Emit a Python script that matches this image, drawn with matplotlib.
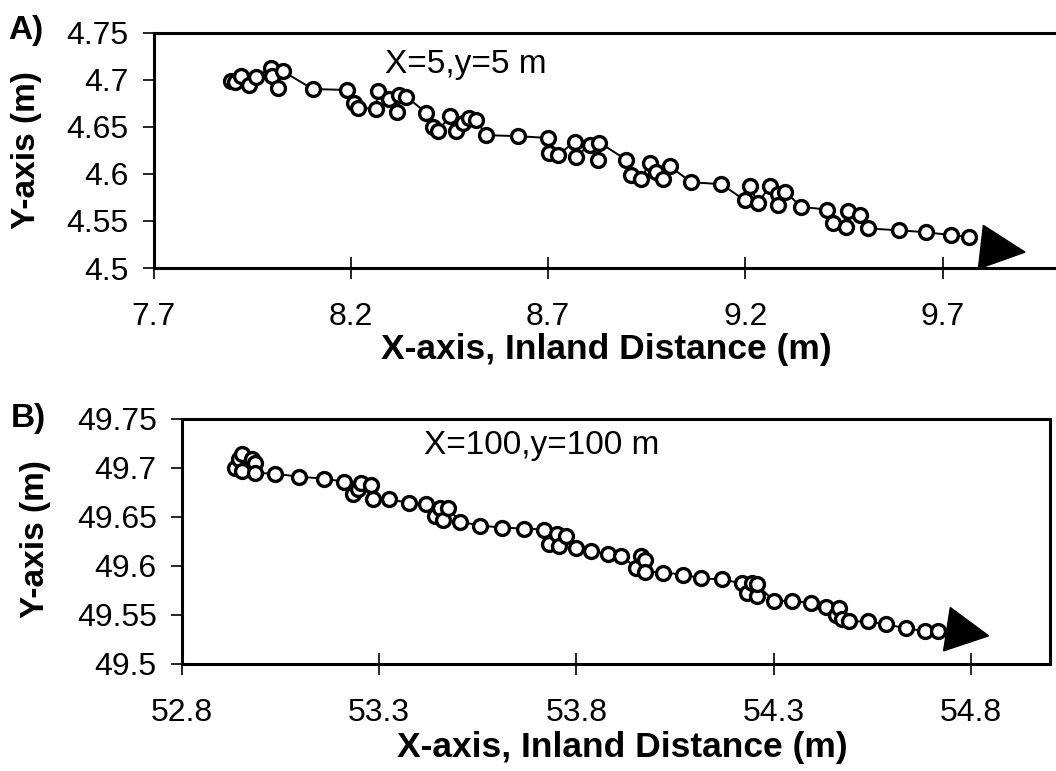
''' particle path plots, two grid sizes '''

import matplotlib
matplotlib.use('Agg')
import matplotlib.pyplot as plt
import matplotlib.transforms as transforms
from matplotlib.patches import Polygon

plt.rcParams['font.family'] = ['Liberation Sans', 'DejaVu Sans']

# panel A, X=5,y=5 m
xa = [7.897, 7.906, 7.921, 7.942, 7.959, 7.997, 8.001, 8.014, 8.027, 8.103,
      8.190, 8.208, 8.217, 8.263, 8.268, 8.297, 8.318, 8.323, 8.340, 8.390,
      8.407, 8.420, 8.450, 8.467, 8.483, 8.500, 8.517, 8.543, 8.623, 8.699,
      8.703, 8.725, 8.767, 8.771, 8.805, 8.826, 8.830, 8.898, 8.911, 8.936,
      8.957, 8.974, 8.991, 9.008, 9.063, 9.139, 9.198, 9.211, 9.232, 9.262,
      9.283, 9.283, 9.300, 9.342, 9.406, 9.423, 9.456, 9.461, 9.490, 9.511,
      9.589, 9.657, 9.720, 9.766]
ya = [4.698, 4.697, 4.704, 4.694, 4.703, 4.712, 4.704, 4.691, 4.709, 4.690,
      4.689, 4.675, 4.670, 4.669, 4.688, 4.679, 4.666, 4.684, 4.682, 4.665,
      4.650, 4.645, 4.661, 4.645, 4.654, 4.659, 4.657, 4.641, 4.640, 4.638,
      4.622, 4.620, 4.634, 4.618, 4.631, 4.615, 4.633, 4.615, 4.599, 4.595,
      4.611, 4.602, 4.594, 4.608, 4.591, 4.589, 4.572, 4.587, 4.569, 4.587,
      4.579, 4.567, 4.581, 4.565, 4.562, 4.548, 4.544, 4.560, 4.556, 4.542,
      4.540, 4.538, 4.535, 4.533]

# panel B, X=100,y=100 m
xb = [52.935, 52.944, 52.952, 52.952, 52.978, 52.986, 52.986, 53.037, 53.097, 53.160,
      53.211, 53.233, 53.246, 53.254, 53.280, 53.284, 53.326, 53.377, 53.420, 53.441,
      53.454, 53.462, 53.475, 53.505, 53.556, 53.611, 53.667, 53.718, 53.730, 53.752,
      53.756, 53.773, 53.798, 53.836, 53.879, 53.913, 53.951, 53.964, 53.973, 53.973,
      54.019, 54.070, 54.117, 54.168, 54.219, 54.232, 54.245, 54.257, 54.257, 54.300,
      54.347, 54.394, 54.432, 54.457, 54.466, 54.474, 54.491, 54.538, 54.585, 54.636,
      54.683, 54.717]
yb = [49.700, 49.709, 49.714, 49.697, 49.709, 49.705, 49.695, 49.694, 49.691, 49.689,
      49.686, 49.673, 49.678, 49.685, 49.683, 49.668, 49.668, 49.664, 49.663, 49.651,
      49.659, 49.647, 49.659, 49.645, 49.641, 49.639, 49.638, 49.637, 49.622, 49.632,
      49.620, 49.630, 49.618, 49.615, 49.612, 49.610, 49.598, 49.610, 49.606, 49.594,
      49.593, 49.591, 49.587, 49.586, 49.582, 49.572, 49.582, 49.569, 49.581, 49.564,
      49.564, 49.562, 49.558, 49.550, 49.557, 49.546, 49.543, 49.543, 49.540, 49.536,
      49.533, 49.533]

xticks_a = [7.7, 8.2, 8.7, 9.2, 9.7]
yticks_a = [4.5, 4.55, 4.6, 4.65, 4.7, 4.75]
xticks_b = [52.8, 53.3, 53.8, 54.3, 54.8]
yticks_b = [49.5, 49.55, 49.6, 49.65, 49.7, 49.75]


def px(x, y):
	# pixel position (from top-left) to figure fraction
	return x / 1056.0, 1 - y / 771.0


def draw_panel(ax, x, y, xticks, yticks, xlim, note, note_xy, tri):
	ax.plot(x, y, '-', color='k', lw=1.4, marker='o', ms=10, mfc='w',
		mec='k', mew=2.4, zorder=3)
	ax.set_xlim(xlim)
	ax.set_ylim(yticks[0], yticks[-1])
	ax.set_xticks(xticks)
	ax.set_xticklabels(['%g' % v for v in xticks])
	ax.set_yticks(yticks)
	ax.set_yticklabels(['%g' % v for v in yticks])
	ax.tick_params(axis='x', direction='inout', length=15.5, width=1.2,
		pad=17, labelsize=23)
	ax.tick_params(axis='y', direction='out', length=8, width=1.2,
		pad=10, labelsize=23)
	for s in ax.spines.values():
		s.set_linewidth(2.2)
	ax.text(note_xy[0], note_xy[1], note, fontsize=24, ha='left', va='baseline')
	# direction arrow head, placed next to the last point
	trans = fig.dpi_scale_trans + transforms.ScaledTranslation(x[-1], y[-1], ax.transData)
	ax.add_patch(Polygon(tri, closed=True, fc='k', ec='k', transform=trans,
		clip_on=False, zorder=4))


fig = plt.figure(figsize=(10.56, 7.71), dpi=100)

ax1 = fig.add_axes([153.7 / 1056, 1 - 268 / 771.0, (1061 - 153.7) / 1056, 235.5 / 771])
draw_panel(ax1, xa, ya, xticks_a, yticks_a, (7.7, 10.0), 'X=5,y=5 m', (8.286, 4.707),
	[(0.147, 0.115), (0.097, -0.318), (0.563, -0.152)])

ax2 = fig.add_axes([181.7 / 1056, 1 - 663.5 / 771.0, (1050 - 181.7) / 1056, 244.5 / 771])
draw_panel(ax2, xb, yb, xticks_b, yticks_b, (52.8, 55.0), 'X=100,y=100 m', (53.414, 49.714),
	[(0.12, 0.237), (0.053, -0.196), (0.503, -0.046)])

# panel letters and axis titles
fig.text(*px(8, 38.5), 'A)', fontsize=24, fontweight='bold', ha='left', va='baseline')
fig.text(*px(11, 427), 'B)', fontsize=24, fontweight='bold', ha='left', va='baseline')
fig.text(*px(27, 150), 'Y-axis (m)', fontsize=24, fontweight='bold', rotation=90,
	ha='center', va='center')
fig.text(*px(36, 539), 'Y-axis (m)', fontsize=24, fontweight='bold', rotation=90,
	ha='center', va='center')
fig.text(*px(606, 359), 'X-axis, Inland Distance (m)', fontsize=25.5, fontweight='bold',
	ha='center', va='baseline')
fig.text(*px(622, 757), 'X-axis, Inland Distance (m)', fontsize=25.5, fontweight='bold',
	ha='center', va='baseline')

fig.savefig('out.png', dpi=100)
